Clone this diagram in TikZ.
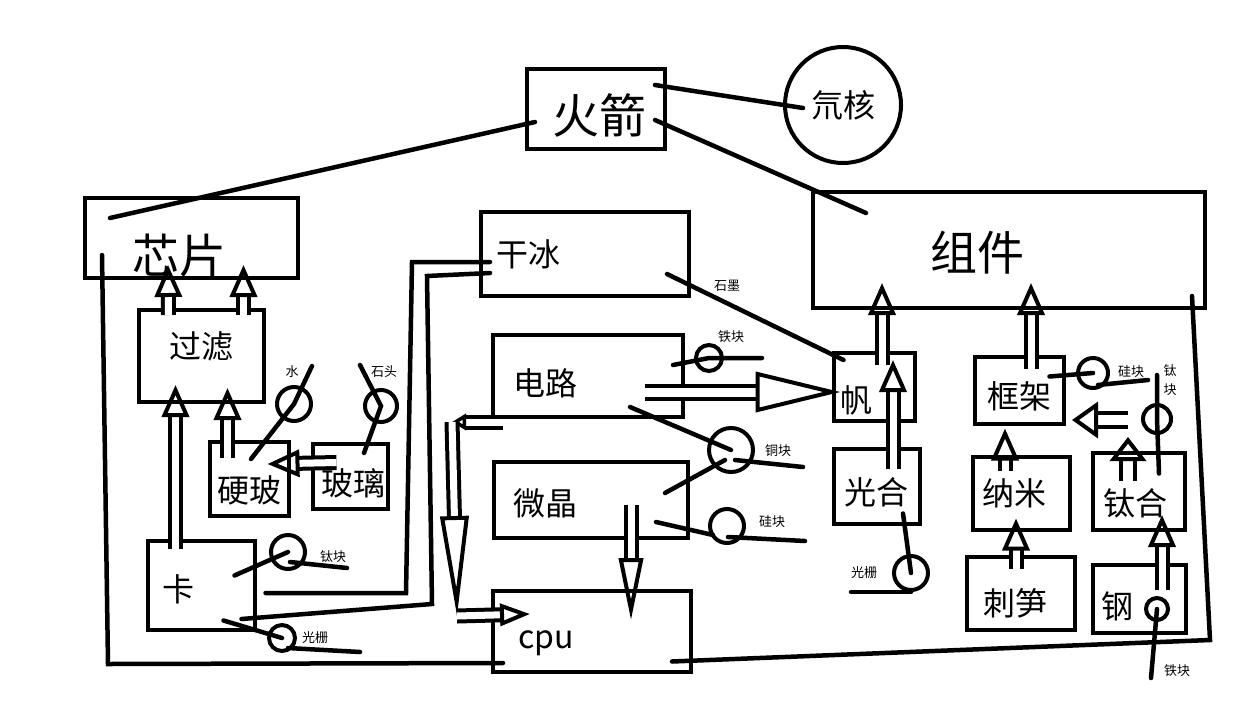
\documentclass[tikz,border=0pt]{standalone}
\usepackage{fontspec}
\setmainfont{Noto Sans CJK SC}
\usetikzlibrary{calc, arrows.meta}

\begin{document}
\begin{tikzpicture}[x=1pt, y=-1pt]

\tikzstyle{box} = [rectangle, draw=black, line width=4.5pt]
\tikzstyle{ring} = [circle, draw=black, line width=4pt, inner sep=0pt]
\tikzstyle{link} = [line width=4.5pt, line cap=round]
\tikzstyle{hollow} = [line width=4pt, double=white, double distance=7pt, -{Triangle[open, length=32pt, width=27pt]}]
\tikzstyle{txtL} = [font=\fontsize{47}{47}\selectfont]
\tikzstyle{txtM} = [font=\fontsize{32}{32}\selectfont]
\tikzstyle{tag} = [font=\fontsize{13}{13}\selectfont, inner sep=0pt]

\useasboundingbox [fill=white] (0,0) rectangle (1255,726);

% boxes
\node (rocket) [box, minimum width=138pt, minimum height=80pt, label={[txtL, xshift=3pt, yshift=-6pt]center:火箭}] at (596,109) {};
\node (chip) [box, minimum width=213pt, minimum height=80pt, label={[txtL, xshift=-12pt, yshift=-18pt]center:芯片}] at (191.5,238) {};
\node (parts) [box, minimum width=392pt, minimum height=116pt, label={[txtL, xshift=-32pt, yshift=-3pt]center:组件}] at (1009,250) {};
\node (dryice) [box, minimum width=208pt, minimum height=84pt, label={[txtM, xshift=-57pt]center:干冰}] at (585,254) {};
\node (circuit) [box, minimum width=190pt, minimum height=82pt, label={[txtM, xshift=-43pt, yshift=-7pt]center:电路}] at (588,376) {};
\node (micro) [box, minimum width=194pt, minimum height=76pt, label={[txtM, xshift=-46pt, yshift=-3pt]center:微晶}] at (591,500) {};
\node (cpu) [box, minimum width=198pt, minimum height=81pt, label={[txtM, xshift=-46pt, yshift=-12pt]center:cpu}] at (592,631.5) {};
\node (filter) [box, minimum width=125pt, minimum height=92pt, label={[txtM, yshift=10pt]center:过滤}] at (201.5,356) {};
\node (hardg) [box, minimum width=79pt, minimum height=74pt, label={[txtM, yshift=-11pt]center:硬玻}] at (249.5,479) {};
\node (glass) [box, minimum width=75pt, minimum height=65pt, label={[txtM, xshift=3pt, yshift=-7pt]center:玻璃}] at (350.5,476.5) {};
\node (card) [box, minimum width=107pt, minimum height=89pt, label={[txtM, xshift=-23pt, yshift=-4pt]center:卡}] at (201.5,585.5) {};
\node (sail) [box, minimum width=81pt, minimum height=68pt, label={[txtM, xshift=-18pt, yshift=-13pt]center:帆}] at (874.5,387) {};
\node (photo) [box, minimum width=86pt, minimum height=75pt, label={[txtM, xshift=-1pt, yshift=-6pt]center:光合}] at (877,486.5) {};
\node (frame) [box, minimum width=89pt, minimum height=67pt, label={[txtM, yshift=-6pt]center:框架}] at (1019.5,390.5) {};
\node (nano) [box, minimum width=97pt, minimum height=73pt, label={[txtM, xshift=-7pt]center:纳米}] at (1021.5,493.5) {};
\node (tialloy) [box, minimum width=92pt, minimum height=77pt, label={[txtM, xshift=-4pt, yshift=-12pt]center:钛合}] at (1139,491.5) {};
\node (spike) [box, minimum width=108pt, minimum height=73pt, label={[txtM, xshift=-6pt, yshift=-10pt]center:刺笋}] at (1021,593.5) {};
\node (steel) [box, minimum width=93pt, minimum height=68pt, label={[txtM, xshift=-22pt, yshift=-7pt]center:钢}] at (1139.5,599) {};

% circles
\node (deut) [ring, minimum size=116pt, txtM] at (843,105) {氘核};
\node (water) [ring, minimum size=34pt] at (294,404) {};
\node (stone) [ring, minimum size=32pt] at (381,406) {};
\node (tiA) [ring, minimum size=34pt] at (288,552) {};
\node (gratA) [ring, minimum size=26pt] at (282,638) {};
\node (feA) [ring, minimum size=26pt] at (709,358) {};
\node (cuA) [ring, minimum size=44pt] at (731,450) {};
\node (siA) [ring, minimum size=34pt] at (727,526) {};
\node (gratB) [ring, minimum size=34pt] at (911,573) {};
\node (siB) [ring, minimum size=30pt] at (1093,373) {};
\node (tiB) [ring, minimum size=28pt] at (1157,419) {};
\node (feB) [ring, minimum size=22pt] at (1157,609) {};

% small tags
\node (waterlbl) [tag] at (292,372) {水};
\node (stonelbl) [tag] at (384,372) {石头};
\node (tiAlbl) [tag] at (333,557) {钛块};
\node (gratAlbl) [tag] at (315,638) {光栅};
\node (graphlbl) [tag] at (727,286) {石墨};
\node (feAlbl) [tag] at (731,337) {铁块};
\node (cuAlbl) [tag] at (778,451) {铜块};
\node (siAlbl) [tag] at (772,522) {硅块};
\node (gratBlbl) [tag] at (864,573) {光栅};
\node (siBlbl) [tag] at (1131,372) {硅块};
\node (tiBlbl) [tag, align=center] at (1170,380) {钛\\[6pt]块};
\node (feBlbl) [tag] at (1177,671) {铁块};

% free ends and bends
\coordinate (loopbl) at (108,664);
\coordinate (loopbr) at (1210,640);
\coordinate (r1a) at (406,593);
\coordinate (r1b) at (412,262);
\coordinate (r2a) at (432,604);
\coordinate (r2b) at (427,276);
\coordinate (waterend) at (312,366);
\coordinate (stoneend) at (360,365);
\coordinate (tiAend) at (347,568);
\coordinate (gratAend) at (360,652);
\coordinate (feAend) at (762,358);
\coordinate (cuAend) at (803,467);
\coordinate (siAend) at (805,541);
\coordinate (gratBend) at (851,592);
\coordinate (siBend) at (1148,380);
\coordinate (tiBend) at (1157,375);
\coordinate (feBend) at (1151,678);
\coordinate (cbend1) at (452,422);
\coordinate (cbend2) at (457,616);
\coordinate (tiup) at (1128,437);
\coordinate (tileft) at (1128,420);

% plain lines
\draw [link] ($(chip)+(-81.5,-20)$) -- ($(rocket)+(-61,13)$);
\draw [link] ($(rocket)+(59,-24)$) -- ($(deut)+(-40,3)$);
\draw [link] ($(rocket)+(59,11)$) -- ($(parts)+(-143,-37)$);
\draw [link] ($(chip)+(-89.5,17)$) -- (loopbl) -- ($(cpu)+(-89,31.5)$);
\draw [link] ($(cpu)+(80,30)$) -- (loopbr) -- ($(parts)+(183,46)$);
\draw [link] ($(card)+(64,7.5)$) -- (r1a) -- (r1b) -- ($(dryice)+(-95,8)$);
\draw [link] ($(card)+(40,33.5)$) -- (r2a) -- (r2b) -- ($(dryice)+(-95,19)$);
\draw [link] ($(dryice)+(82,20)$) -- ($(sail)+(-31,-27)$);
\draw [link] ($(hardg)+(1.5,-20)$) -- (water.center) -- (waterend);
\draw [link] ($(glass)+(13.5,-23.5)$) -- (stone.center) -- (stoneend);
\draw [link] ($(card)+(33,-10)$) -- (tiA.center);
\draw [link] ($(tiA)+(2,10)$) -- (tiAend);
\draw [link] ($(card)+(22,35)$) -- (gratA.center);
\draw [link] ($(gratA)+(6,10)$) -- (gratAend);
\draw [link] ($(circuit)+(85,-11)$) -- (feA.center) -- (feAend);
\draw [link] ($(circuit)+(42,31)$) -- (cuA.center);
\draw [link] ($(micro)+(74,-7)$) -- ($(cuA)+(-6,10)$);
\draw [link] ($(cuA)+(4,10)$) -- (cuAend);
\draw [link] ($(micro)+(65,22)$) -- ($(siA)+(-14,9)$);
\draw [link] ($(siA)+(1,11)$) -- (siAend);
\draw [link] ($(photo)+(26,27)$) -- (gratB.center);
\draw [link] (gratBend) -- (gratB.south);
\draw [link] ($(frame)+(30,-14)$) -- (siB.center);
\draw [link] ($(siB)+(5,12)$) -- (siBend);
\draw [link] (tiBend) -- (tiB.center) -- ($(tialloy)+(20,-18)$);
\draw [link] (feB.center) -- (feBend);

% hollow arrows
\draw [hollow] ($(filter)+(-33,-41)$) -- ($(chip)+(-23.5,27)$);
\draw [hollow] ($(filter)+(42,-41)$) -- ($(chip)+(52,27)$);
\draw [hollow] ($(card)+(-26,-37)$) -- ($(filter)+(-26,29)$);
\draw [hollow] ($(hardg)+(-22,-21)$) -- ($(filter)+(26,32)$);
\draw [hollow] ($(glass)+(-14,-14)$) -- ($(hardg)+(18,-15)$);
\draw [hollow, double distance=9pt, -{Triangle[open, length=85pt, width=40pt]}] ($(circuit)+(57,16)$) -- ($(sail)+(-34,5)$);
\draw [hollow, -{Triangle[open, length=14pt, width=16pt]}] ($(circuit)+(-85,46)$) -- (cbend1);
\draw [hollow, -{Triangle[open, length=100pt, width=28pt]}] (cbend1) -- (cbend2);
\draw [hollow, -{Triangle[open, length=30pt, width=22pt]}] (cbend2) -- ($(cpu)+(-62,-17.5)$);
\draw [hollow, -{Triangle[open, length=62pt, width=24pt]}] ($(micro)+(40,5)$) -- ($(cpu)+(39,-11.5)$);
\draw [hollow] ($(photo)+(16,-18)$) -- ($(sail)+(18.5,-27)$);
\draw [hollow] ($(sail)+(7.5,-22)$) -- ($(parts)+(-127,33)$);
\draw [hollow] ($(frame)+(11.5,-22)$) -- ($(parts)+(22,33)$);
\draw [hollow] ($(nano)+(-16.5,-23)$) -- ($(frame)+(-14.5,38)$);
\draw [hollow] ($(spike)+(-5,-25)$) -- ($(nano)+(-5.5,25)$);
\draw [hollow, double distance=10pt, -{Triangle[open, length=24pt, width=36pt]}] ($(tialloy)+(-11,-11)$) -- (tiup);
\draw [hollow, double distance=10pt, -{Triangle[open, length=26pt, width=36pt]}] (tileft) -- ($(frame)+(52.5,29.5)$);
\draw [hollow] ($(steel)+(22.5,-9)$) -- ($(tialloy)+(23,23.5)$);

\end{tikzpicture}
\end{document}
